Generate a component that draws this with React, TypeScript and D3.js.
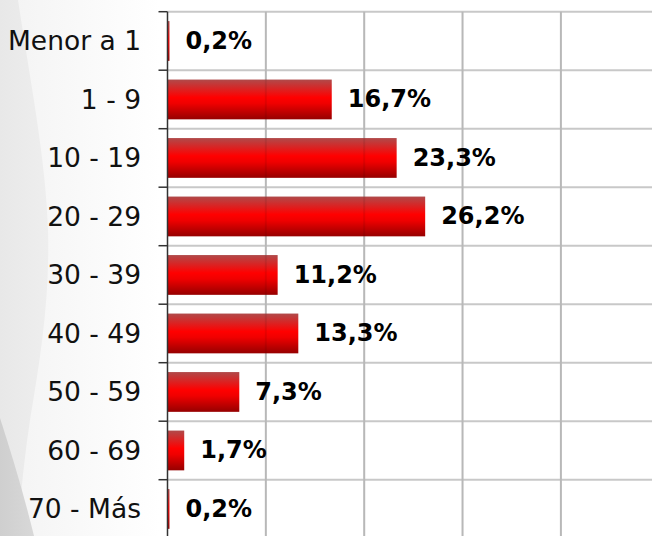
import React from "react";
import * as d3 from "d3";

const categories = ["Menor a 1", "1 - 9", "10 - 19", "20 - 29", "30 - 39", "40 - 49", "50 - 59", "60 - 69", "70 - Más"];
const values = [0.2, 16.7, 23.3, 26.2, 11.2, 13.3, 7.3, 1.7, 0.2];
const xTicks = [0, 10, 20, 30, 40, 50];

const W = 652;
const H = 536;
const left = 167.5;
const top = 11.7;
const step = 58.5;

export default function App() {
  const x = d3.scaleLinear().domain([0, 50]).range([left, left + 5 * 98.35]);
  const y = d3
    .scaleBand<string>()
    .domain(categories)
    .range([top, top + step * categories.length])
    .paddingInner(0.32)
    .paddingOuter(0.16);
  const boundaries = categories.map((_, i) => top + i * step).concat([top + categories.length * step]);
  const fmt = (v: number) => v.toFixed(1).replace(".", ",") + "%";

  return (
    <svg
      width={W}
      height={H}
      style={{ position: "absolute", left: 0, top: 0, display: "block" }}
      fontFamily="DejaVu Sans, Verdana, sans-serif"
    >
      <defs>
        <linearGradient id="barGrad" x1="0" y1="0" x2="0" y2="1">
          <stop offset="0%" stopColor="#b04a4a" />
          <stop offset="45%" stopColor="#ff0000" />
          <stop offset="60%" stopColor="#f00000" />
          <stop offset="100%" stopColor="#960000" />
        </linearGradient>
        <linearGradient id="bgFade" x1="0" y1="0" x2="1" y2="0">
          <stop offset="0%" stopColor="#f3f3f3" />
          <stop offset="100%" stopColor="#ffffff" />
        </linearGradient>
        <linearGradient id="bgLeft" x1="0" y1="0" x2="1" y2="0">
          <stop offset="0%" stopColor="#e8e8e8" />
          <stop offset="100%" stopColor="#eeeeee" />
        </linearGradient>
        <linearGradient id="bgDark" x1="0" y1="0" x2="1" y2="0">
          <stop offset="0%" stopColor="#cfcfcf" />
          <stop offset="100%" stopColor="#d8d8d8" />
        </linearGradient>
      </defs>
      <rect x={0} y={0} width={W} height={H} fill="#ffffff" />
      <rect x={0} y={0} width={160} height={H} fill="url(#bgFade)" />
      <path d="M0,0 L18,0 C30,80 46,160 48,230 C50,300 40,360 30,420 C24,460 20,500 18,536 L0,536 Z" fill="url(#bgLeft)" />
      <path d="M0,418 C12,455 24,495 34,536 L0,536 Z" fill="url(#bgDark)" />

      {xTicks.slice(1).map((t) => (
        <line key={"v" + t} x1={x(t)} x2={x(t)} y1={top} y2={H} stroke="#c8c8c8" strokeWidth={2} />
      ))}
      {boundaries.map((b, i) => (
        <line key={"h" + i} x1={left} x2={W} y1={b} y2={b} stroke="#c8c8c8" strokeWidth={2} />
      ))}

      {categories.map((c, i) => (
        <rect
          key={c}
          x={x(0)}
          y={y(c)}
          width={Math.max(x(values[i]) - x(0), 1.5)}
          height={y.bandwidth()}
          fill="url(#barGrad)"
        />
      ))}
      {xTicks.slice(1).map((t) => (
        <line key={"vo" + t} x1={x(t)} x2={x(t)} y1={top} y2={H} stroke="#000" strokeOpacity={0.08} strokeWidth={2} />
      ))}

      <line x1={left} x2={left} y1={top} y2={H} stroke="#333" strokeWidth={1.5} />
      {boundaries.map((b, i) => (
        <line key={"t" + i} x1={left - 9} x2={left} y1={b} y2={b} stroke="#333" strokeWidth={1.5} />
      ))}

      {categories.map((c) => (
        <text
          key={"l" + c}
          x={141}
          y={(y(c) as number) + y.bandwidth() / 2}
          textAnchor="end"
          dominantBaseline="central"
          fontSize={26.5}
          fill="#111"
        >
          {c}
        </text>
      ))}

      {categories.map((c, i) => (
        <text
          key={"v" + c}
          x={x(values[i]) + 16}
          y={(y(c) as number) + y.bandwidth() / 2}
          dominantBaseline="central"
          fontSize={24}
          fontWeight="bold"
          fill="#000"
        >
          {fmt(values[i])}
        </text>
      ))}
    </svg>
  );
}
